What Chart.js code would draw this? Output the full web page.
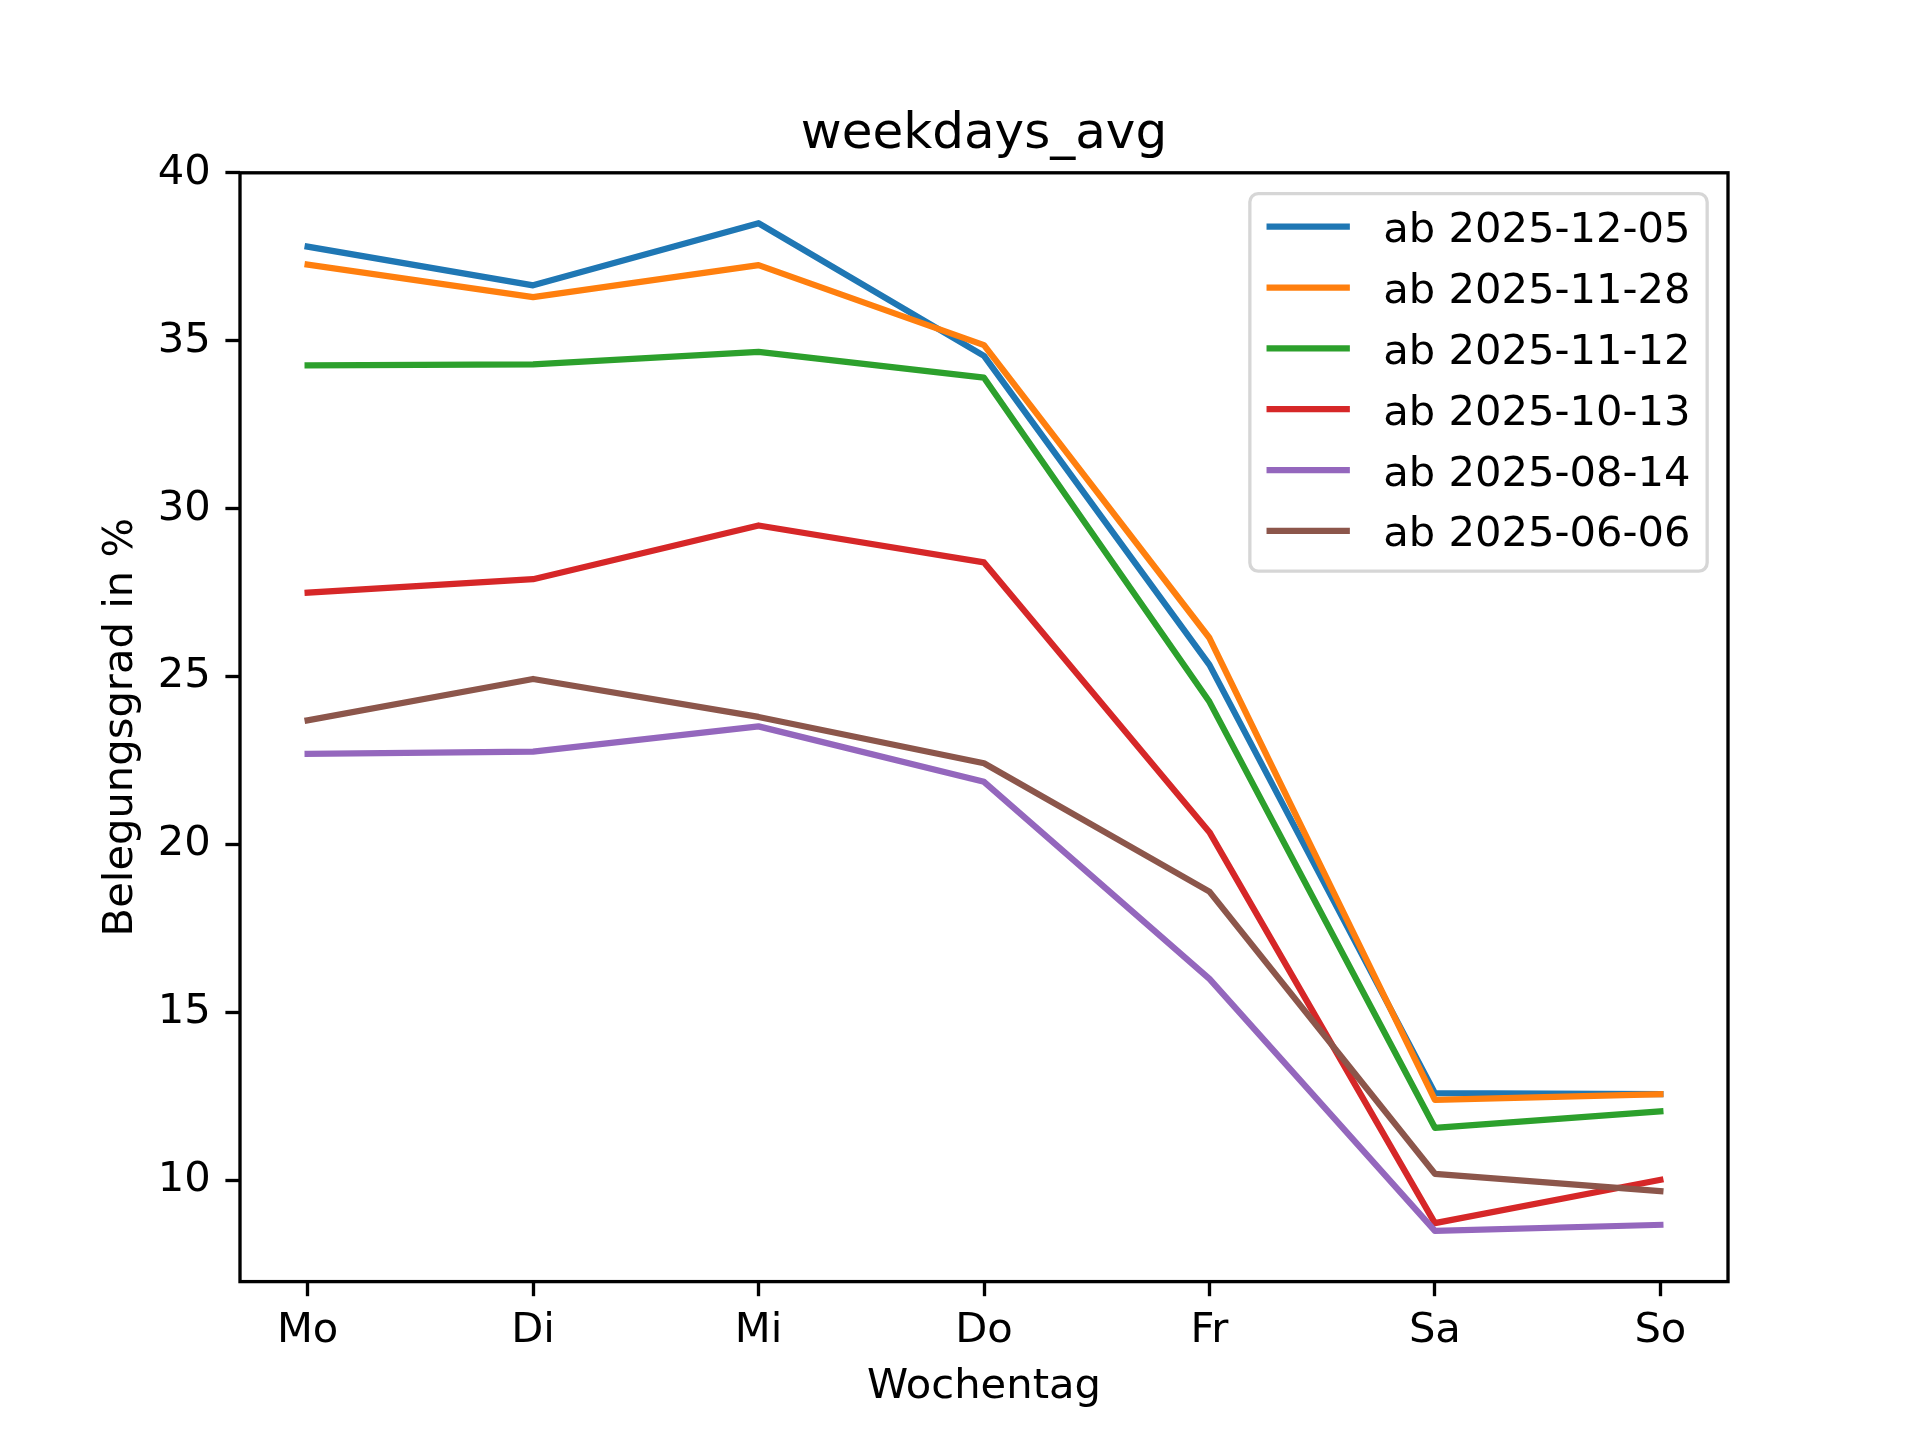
<!DOCTYPE html>
<html>
<head>
<meta charset="utf-8">
<title>weekdays_avg</title>
<script src="https://cdn.jsdelivr.net/npm/chart.js@4/dist/chart.umd.min.js"></script>
<style>
  html, body { margin: 0; padding: 0; background: #ffffff; }
  #wrap { width: 1920px; height: 1440px; }
  canvas { display: block; }
</style>
</head>
<body>
<div id="wrap"><canvas id="c" width="1920" height="1440" style="width:1920px;height:1440px"></canvas></div>
<script>
// ---- data ----
const days = ['Mo', 'Di', 'Mi', 'Do', 'Fr', 'Sa', 'So'];
const seriesLabels = ['ab 2025-12-05', 'ab 2025-11-28', 'ab 2025-11-12', 'ab 2025-10-13', 'ab 2025-08-14', 'ab 2025-06-06'];
const ab20251205 = [37.80, 36.65, 38.50, 34.55, 25.35, 12.60, 12.57];
const ab20251128 = [37.27, 36.30, 37.25, 34.87, 26.15, 12.40, 12.57];
const ab20251112 = [34.27, 34.30, 34.67, 33.90, 24.25, 11.57, 12.06];
const ab20251013 = [27.50, 27.90, 29.50, 28.40, 20.37, 8.73, 10.02];
const ab20250814 = [22.70, 22.77, 23.52, 21.87, 16.00, 8.50, 8.68];
const ab20250606 = [23.70, 24.93, 23.80, 22.42, 18.60, 10.20, 9.68];
const seriesValues = [ab20251205, ab20251128, ab20251112, ab20251013, ab20250814, ab20250606];
const yTicks = [10, 15, 20, 25, 30, 35, 40];
const titleText = 'weekdays_avg';
const xTitle = 'Wochentag';
const yTitle = 'Belegungsgrad in %';

// ---- style ----
const colors = ['#1f77b4', '#ff7f0e', '#2ca02c', '#d62728', '#9467bd', '#8c564b'];
const FONT = 'DejaVu Sans';
const FS = 41.67;      // 10pt @ 300dpi
const TITLE_FS = 50;   // 12pt @ 300dpi
const LW = 6.25;       // 1.5pt
const SPINE = 3.33;    // 0.8pt
const TICKLEN = 14.6;  // 3.5pt

Chart.defaults.font.family = FONT;
Chart.defaults.color = '#000000';

const datasets = seriesValues.map((vals, i) => ({
  label: seriesLabels[i],
  data: vals.map((v, k) => ({ x: k, y: v })),
  borderColor: colors[i],
  backgroundColor: colors[i],
  borderWidth: LW,
  pointRadius: 0,
  pointHoverRadius: 0,
  tension: 0,
  fill: false,
  borderJoinStyle: 'round',
  borderCapStyle: 'square',
  order: seriesValues.length - i
}));

const decorPlugin = {
  id: 'decor',
  afterDatasetsDraw(chart) {
    const ctx = chart.ctx;
    const a = chart.chartArea;
    ctx.save();
    // spines
    ctx.strokeStyle = '#000000';
    ctx.lineWidth = SPINE;
    ctx.lineJoin = 'miter';
    ctx.strokeRect(a.left, a.top, a.right - a.left, a.bottom - a.top);

    // title
    const cx = (a.left + a.right) / 2;
    ctx.fillStyle = '#000000';
    ctx.textAlign = 'center';
    ctx.textBaseline = 'alphabetic';
    ctx.font = TITLE_FS + 'px "' + FONT + '"';
    ctx.fillText(titleText, cx, a.top - 25);

    // x title
    ctx.font = FS + 'px "' + FONT + '"';
    ctx.fillText(xTitle, cx, 1398);

    // y title
    ctx.save();
    ctx.translate(131.7, (a.top + a.bottom) / 2);
    ctx.rotate(-Math.PI / 2);
    ctx.textAlign = 'center';
    ctx.textBaseline = 'alphabetic';
    ctx.fillText(yTitle, 0, 0);
    ctx.restore();

    // legend (matplotlib style, upper right)
    const n = chart.data.datasets.length;
    const pad = 0.5 * FS;
    const border = 0.4 * FS;
    const spacing = 0.5 * FS;
    const handleLen = 2.0 * FS;
    const handlePad = 0.8 * FS;
    ctx.font = FS + 'px "' + FONT + '"';
    let maxW = 0;
    chart.data.datasets.forEach(d => { maxW = Math.max(maxW, ctx.measureText(d.label).width); });
    const rowH = 40.0;
    const right = a.right - pad;
    const top = a.top + pad;
    const boxW = border * 2 + handleLen + handlePad + maxW;
    const boxH = border * 2 + n * rowH + (n - 1) * spacing;
    const left = right - boxW;
    const r = 8.3;
    ctx.beginPath();
    ctx.moveTo(left + r, top);
    ctx.lineTo(right - r, top);
    ctx.arcTo(right, top, right, top + r, r);
    ctx.lineTo(right, top + boxH - r);
    ctx.arcTo(right, top + boxH, right - r, top + boxH, r);
    ctx.lineTo(left + r, top + boxH);
    ctx.arcTo(left, top + boxH, left, top + boxH - r, r);
    ctx.lineTo(left, top + r);
    ctx.arcTo(left, top, left + r, top, r);
    ctx.closePath();
    ctx.fillStyle = 'rgba(255,255,255,0.8)';
    ctx.fill();
    ctx.strokeStyle = 'rgba(204,204,204,0.8)';
    ctx.lineWidth = SPINE;
    ctx.stroke();

    chart.data.datasets.forEach((d, i) => {
      const cy = top + border + i * (rowH + spacing) + 16.4;
      const hx = left + border;
      ctx.beginPath();
      ctx.moveTo(hx, cy);
      ctx.lineTo(hx + handleLen, cy);
      ctx.strokeStyle = d.borderColor;
      ctx.lineWidth = LW;
      ctx.lineCap = 'butt';
      ctx.stroke();
      ctx.fillStyle = '#000000';
      ctx.textAlign = 'left';
      ctx.textBaseline = 'alphabetic';
      ctx.fillText(d.label, hx + handleLen + handlePad, cy + 15.6);
    });
    ctx.restore();
  }
};

new Chart(document.getElementById('c'), {
  type: 'line',
  data: { datasets },
  options: {
    responsive: false,
    maintainAspectRatio: false,
    devicePixelRatio: 1,
    animation: false,
    events: [],
    layout: { padding: { left: 0, top: 172.8, right: 192, bottom: 0 } },
    plugins: {
      legend: { display: false },
      title: { display: false },
      tooltip: { enabled: false }
    },
    scales: {
      x: {
        type: 'linear',
        min: -0.3,
        max: 6.3,
        afterBuildTicks: (scale) => { scale.ticks = days.map((d, i) => ({ value: i })); },
        afterFit: (scale) => { scale.height = 158.4; },
        ticks: {
          autoSkip: false,
          maxRotation: 0,
          minRotation: 0,
          padding: 9.7,
          font: { size: FS, family: FONT },
          color: '#000000',
          callback: (v) => days[v]
        },
        grid: {
          display: true,
          drawOnChartArea: false,
          drawTicks: true,
          tickLength: TICKLEN,
          tickWidth: SPINE,
          tickColor: '#000000'
        },
        border: { display: false }
      },
      y: {
        type: 'linear',
        min: 6.99,
        max: 40.0,
        afterBuildTicks: (scale) => { scale.ticks = yTicks.map(v => ({ value: v })); },
        afterFit: (scale) => { scale.width = 240; },
        ticks: {
          padding: TICKLEN,
          font: { size: FS, family: FONT },
          color: '#000000',
          callback: (v) => String(v)
        },
        grid: {
          display: true,
          drawOnChartArea: false,
          drawTicks: true,
          tickLength: TICKLEN,
          tickWidth: SPINE,
          tickColor: '#000000'
        },
        border: { display: false }
      }
    }
  },
  plugins: [decorPlugin]
});
</script>
</body>
</html>
